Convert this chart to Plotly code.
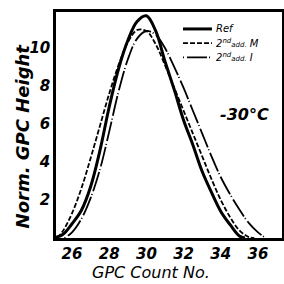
import plotly.graph_objects as go

# GPC count numbers (x) and normalized heights
ref_x = [25.0, 25.5, 26.0, 26.5, 27.0, 27.5, 28.0, 28.5, 29.0, 29.5, 30.0, 30.5,
         31.0, 31.5, 32.0, 32.5, 33.0, 33.5, 34.0, 34.5, 35.0, 35.3]
ref_y = [0.0, 0.18, 0.75, 1.45, 2.7, 4.6, 6.9, 8.9, 10.4, 11.4, 11.7, 10.9,
         9.3, 7.8, 6.2, 4.9, 3.5, 2.4, 1.4, 0.7, 0.1, 0.0]

m_x = [25.2, 25.5, 26.0, 26.5, 27.0, 27.5, 28.0, 28.5, 29.0, 29.5, 30.0, 30.5,
       31.0, 31.5, 32.0, 32.5, 33.0, 33.5, 34.0, 34.5, 35.0, 35.5, 35.8]
m_y = [0.0, 0.35, 1.3, 2.6, 4.2, 5.9, 7.6, 9.1, 10.3, 10.95, 10.9, 10.2,
       9.1, 7.9, 6.7, 5.5, 4.3, 3.1, 2.0, 1.1, 0.4, 0.05, 0.0]

i_x = [25.6, 26.0, 26.5, 27.0, 27.5, 28.0, 28.5, 29.0, 29.5, 30.0, 30.5, 31.0,
       31.5, 32.0, 32.5, 33.0, 33.5, 34.0, 34.5, 35.0, 35.5, 36.0, 36.4]
i_y = [0.0, 0.3, 1.0, 2.1, 3.6, 5.6, 7.7, 9.4, 10.5, 10.9, 10.7, 10.0,
       9.0, 7.9, 6.7, 5.5, 4.3, 3.2, 2.3, 1.5, 0.8, 0.3, 0.0]

x_ticks = [26, 28, 30, 32, 34, 36]
y_ticks = [2, 4, 6, 8, 10]

series_names = ["Ref", "2<sup>nd</sup><span style='font-size:7px'>add.</span> M",
                "2<sup>nd</sup><span style='font-size:7px'>add.</span> I"]
series_dash = ["solid", "5px,2px", "1px,3px,20px,2px"]
series_width = [3, 1.8, 1.8]

font_fam = "DejaVu Sans"

fig = go.Figure()
for xs, ys, nm, ds, wd in zip([ref_x, m_x, i_x], [ref_y, m_y, i_y],
                              series_names, series_dash, series_width):
    fig.add_trace(go.Scatter(x=xs, y=ys, mode="lines", name=nm, showlegend=False,
                             hoverinfo="skip",
                             line=dict(color="black", width=wd, dash=ds, shape="spline")))

# hand-drawn style legend (key lines + labels) in paper coordinates
leg_y = [0.925, 0.862, 0.799]
for yy, nm, ds, wd in zip(leg_y, series_names, series_dash, series_width):
    fig.add_shape(type="line", xref="paper", yref="paper", x0=0.562, x1=0.690,
                  y0=yy, y1=yy, line=dict(color="black", width=wd, dash=ds))
    fig.add_annotation(xref="paper", yref="paper", x=0.70, y=yy, xanchor="left",
                       yanchor="middle", text=nm, showarrow=False,
                       font=dict(family=font_fam, size=10, color="black", style="italic"))

fig.update_layout(
    width=284, height=284,
    margin=dict(l=56, r=2, t=12, b=46),
    paper_bgcolor="white", plot_bgcolor="white",
    showlegend=False,
    xaxis=dict(range=[25.14, 37.29], tickvals=x_ticks, ticks="", showgrid=False,
               zeroline=False, showline=True, linewidth=2.5, linecolor="black", mirror=True,
               automargin=False,
               tickfont=dict(family=font_fam, size=15, color="black", style="italic", weight="bold")),
    yaxis=dict(range=[0, 11.9], tickvals=y_ticks, ticks="", showgrid=False,
               zeroline=False, showline=True, linewidth=2.5, linecolor="black", mirror=True,
               automargin=False,
               tickfont=dict(family=font_fam, size=15, color="black", style="italic", weight="bold")),
)
# axis titles
fig.add_annotation(xref="paper", yref="paper", x=0.42, y=-0.200, yanchor="bottom",
                   text="GPC Count No.", showarrow=False, borderpad=0,
                   font=dict(family=font_fam, size=16, color="black", style="italic"))
fig.add_annotation(xref="paper", yref="paper", x=-0.150, y=0.45, xanchor="center",
                   text="Norm. GPC Height", showarrow=False, textangle=-90,
                   font=dict(family=font_fam, size=18, color="black", style="italic", weight="bold"))
fig.add_annotation(x=35.3, y=6.5, text="-30°C", showarrow=False,
                   font=dict(family=font_fam, size=16, color="black", style="italic", weight="bold"))

fig.write_html("out.html", config={"displayModeBar": False},
               post_script="document.body.style.margin='0';")
